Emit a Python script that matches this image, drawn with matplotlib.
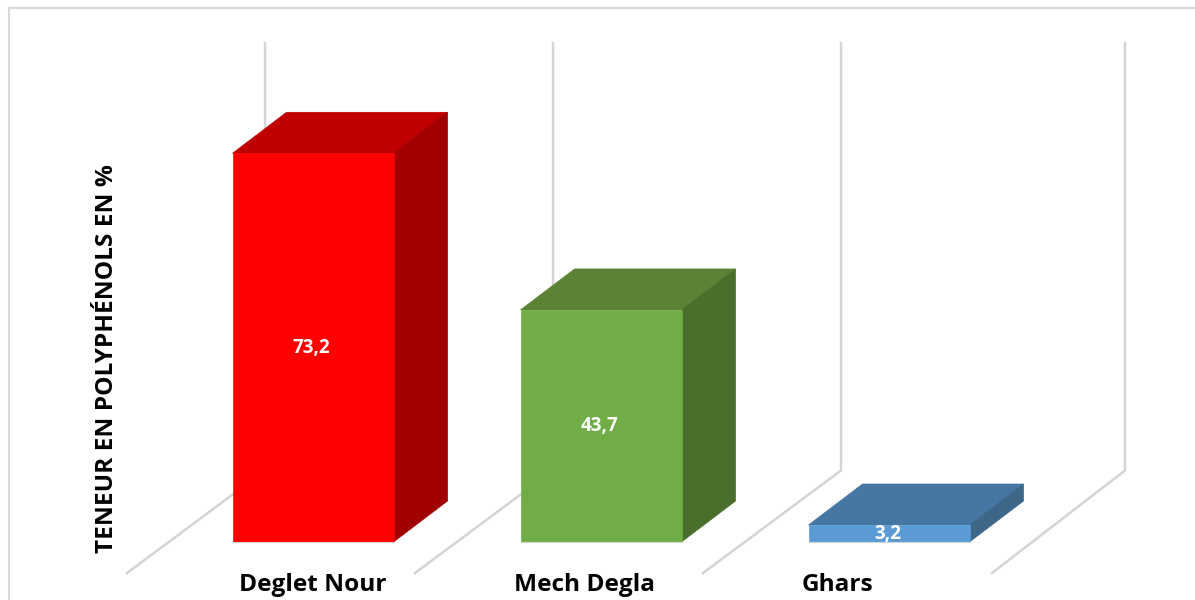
import matplotlib
matplotlib.use("Agg")
import matplotlib.pyplot as plt
from matplotlib.patches import Polygon, Rectangle

categories = ["Deglet Nour", "Mech Degla", "Ghars"]
values = [73.2, 43.7, 3.2]
value_labels = ["73,2", "43,7", "3,2"]
front_colors = ["#FF0000", "#70AD47", "#5B9BD5"]
top_colors = ["#C00000", "#5B8235", "#4676A2"]
side_colors = ["#A00000", "#4A6E2B", "#3D6789"]
ylabel = "TENEUR EN POLYPHÉNOLS EN %"

# pixel scale of the reference: 288 px per category, 5.31 px per unit
PX_X = 288
PX_Y = 5.31
W, H = 1195, 600

def to_x(px):
    return (px - 313) / PX_X

def to_y(px):
    return (542 - px) / PX_Y

bar_w = 161 / PX_X
dx = 54 / PX_X
dy = 41 / PX_Y

plt.rcParams['font.family'] = ['Open Sans', 'DejaVu Sans']
fig = plt.figure(figsize=(W / 100, H / 100), dpi=100)
ax = fig.add_axes([0, 0, 1, 1])
ax.set_xlim(to_x(0), to_x(W))
ax.set_ylim(to_y(H), to_y(0))
ax.axis('off')

# outer frame, only top and left show in the crop
ax.plot([to_x(8.5), to_x(8.5), to_x(W)], [to_y(H), to_y(8.5), to_y(8.5)],
        color='#D9D9D9', linewidth=1.5, solid_joinstyle='miter', zorder=1)

# walls and floor lines of the 3d box
floor_front = [127, 415, 703, 992]
wall_back = [265, 553, 841, 1125]
for f, b in zip(floor_front, wall_back):
    ax.plot([to_x(f), to_x(b), to_x(b)], [to_y(573), to_y(470.5), to_y(43)],
            color='#D4D4D4', linewidth=1.8, solid_joinstyle='miter', zorder=1)

edge = '#D5D5D5'
for i, v in enumerate(values):
    l = i - bar_w / 2
    r = i + bar_w / 2
    ax.add_patch(Polygon([(l, v), (r, v), (r + dx, v + dy), (l + dx, v + dy)],
                         facecolor=top_colors[i], edgecolor=top_colors[i], linewidth=0.5, zorder=3))
    ax.add_patch(Polygon([(r, 0), (r + dx, dy), (r + dx, v + dy), (r, v)],
                         facecolor=side_colors[i], edgecolor=side_colors[i], linewidth=0.5, zorder=3))
    ax.add_patch(Rectangle((l, 0), bar_w, v, facecolor=front_colors[i], edgecolor=front_colors[i],
                           linewidth=0.5, zorder=4))
    # thin pale line along the foot of the bar
    ax.plot([l, r], [0, 0], color=edge, linewidth=0.8, zorder=4)
    ax.text(i - 0.005, v / 2, value_labels[i], color='white', fontsize=13.5, fontweight='bold',
            ha='center', va='center', zorder=5)

# category labels sit left of the bar centre, Ghars further left
label_px = [313, 585, 837]
for name, px in zip(categories, label_px):
    ax.text(to_x(px), to_y(585), name, color='black', fontsize=17.6, fontweight='bold',
            ha='center', va='center', zorder=5)

ax.text(to_x(107), to_y(359), ylabel, color='black', fontsize=17.6, fontweight='bold',
        rotation=90, ha='center', va='center', zorder=5)

fig.savefig("out.png", dpi=100)
